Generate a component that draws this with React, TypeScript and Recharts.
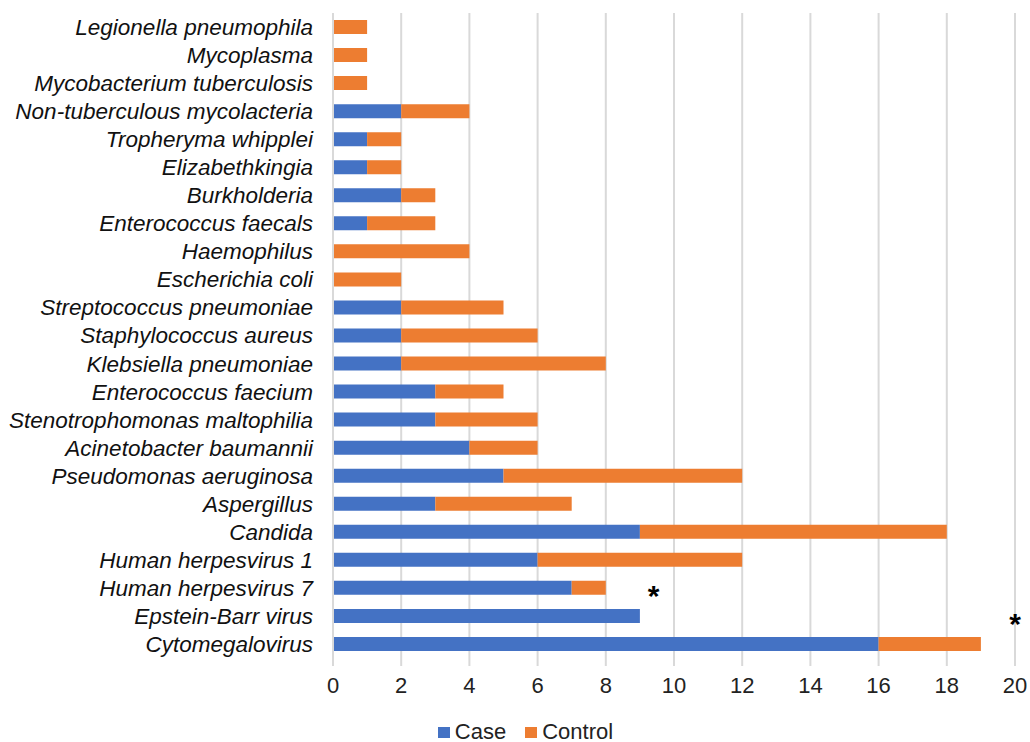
import React from 'react';
import { BarChart, Bar, XAxis, YAxis, CartesianGrid, Legend, ReferenceDot } from 'recharts';

const organisms = [
  'Legionella pneumophila',
  'Mycoplasma ',
  'Mycobacterium tuberculosis',
  'Non-tuberculous mycolacteria',
  'Tropheryma whipplei',
  'Elizabethkingia',
  'Burkholderia',
  'Enterococcus faecals',
  'Haemophilus',
  'Escherichia coli',
  'Streptococcus pneumoniae',
  'Staphylococcus aureus',
  'Klebsiella pneumoniae',
  'Enterococcus faecium',
  'Stenotrophomonas maltophilia',
  'Acinetobacter baumannii',
  'Pseudomonas aeruginosa',
  'Aspergillus',
  'Candida',
  'Human herpesvirus 1',
  'Human herpesvirus 7',
  'Epstein-Barr virus',
  'Cytomegalovirus',
];

const caseCounts = [0, 0, 0, 2, 1, 1, 2, 1, 0, 0, 2, 2, 2, 3, 3, 4, 5, 3, 9, 6, 7, 9, 16];
const controlCounts = [1, 1, 1, 2, 1, 1, 1, 2, 4, 2, 3, 4, 6, 2, 3, 2, 7, 4, 9, 6, 1, 0, 3];

const xTicks = [0, 2, 4, 6, 8, 10, 12, 14, 16, 18, 20];

// asterisks marking significant differences
const sigNames = ['Human herpesvirus 7', 'Epstein-Barr virus'];
const sigX = [9.4, 20];

const chartData = organisms.map((name, i) => ({
  name,
  Case: caseCounts[i],
  Control: controlCounts[i],
}));

const FONT = '"Liberation Sans", Arial, sans-serif';

const XTick = (props: any) => {
  const { x, y, payload } = props;
  return (
    <text x={x} y={y + 25} textAnchor="middle" fontSize={22} fontFamily={FONT} fill="#222">
      {payload.value}
    </text>
  );
};

const Star = (props: any) => {
  const { cx, cy } = props;
  return (
    <text x={cx} y={cy + 18} textAnchor="middle" fontSize={30} fontWeight="bold" fontFamily={FONT} fill="#000">
      *
    </text>
  );
};

const LegendContent = (props: any) => {
  const { payload } = props;
  return (
    <div
      style={{
        display: 'flex',
        justifyContent: 'center',
        paddingLeft: 28,
        fontFamily: FONT,
        fontSize: 22,
        lineHeight: '20px',
        height: 20,
        color: '#222',
      }}
    >
      {(payload || []).map((entry: any, i: number) => (
        <div key={entry.value} style={{ display: 'flex', alignItems: 'center', marginLeft: i === 0 ? 0 : 19 }}>
          <span style={{ display: 'inline-block', width: 12, height: 11, background: entry.color, marginRight: 5 }} />
          <span>{entry.value}</span>
        </div>
      ))}
    </div>
  );
};

const App: React.FC = () => {
  return (
    <div style={{ width: 1030, height: 742 }}>
      <style>{`body{margin:0;overflow:hidden}`}</style>
      <BarChart
        width={1030}
        height={742}
        data={chartData}
        layout="vertical"
        margin={{ top: 13, right: 15, left: 8, bottom: 0 }}
      >
        <CartesianGrid horizontal={false} stroke="#d9d9d9" strokeWidth={2} />
        <XAxis
          type="number"
          domain={[0, 20]}
          ticks={xTicks}
          axisLine={false}
          tickLine={{ stroke: '#d9d9d9', strokeWidth: 2 }}
          tickSize={8}
          height={64}
          tick={<XTick />}
        />
        <YAxis
          type="category"
          dataKey="name"
          width={325}
          axisLine={{ stroke: '#d9d9d9', strokeWidth: 2 }}
          tickLine={false}
          interval={0}
          tickMargin={14}
          tick={{ fill: '#111', fontSize: 22.5, fontStyle: 'italic', fontFamily: FONT }}
        />
        <Legend verticalAlign="bottom" height={20} content={<LegendContent />} />
        <Bar dataKey="Case" stackId="a" fill="#4472C4" barSize={14} isAnimationActive={false} />
        <Bar dataKey="Control" stackId="a" fill="#ED7D31" barSize={14} isAnimationActive={false} />
        {sigNames.map((n, i) => (
          <ReferenceDot key={n} x={sigX[i]} y={n} r={0} shape={Star} />
        ))}
      </BarChart>
    </div>
  );
};

export default App;
